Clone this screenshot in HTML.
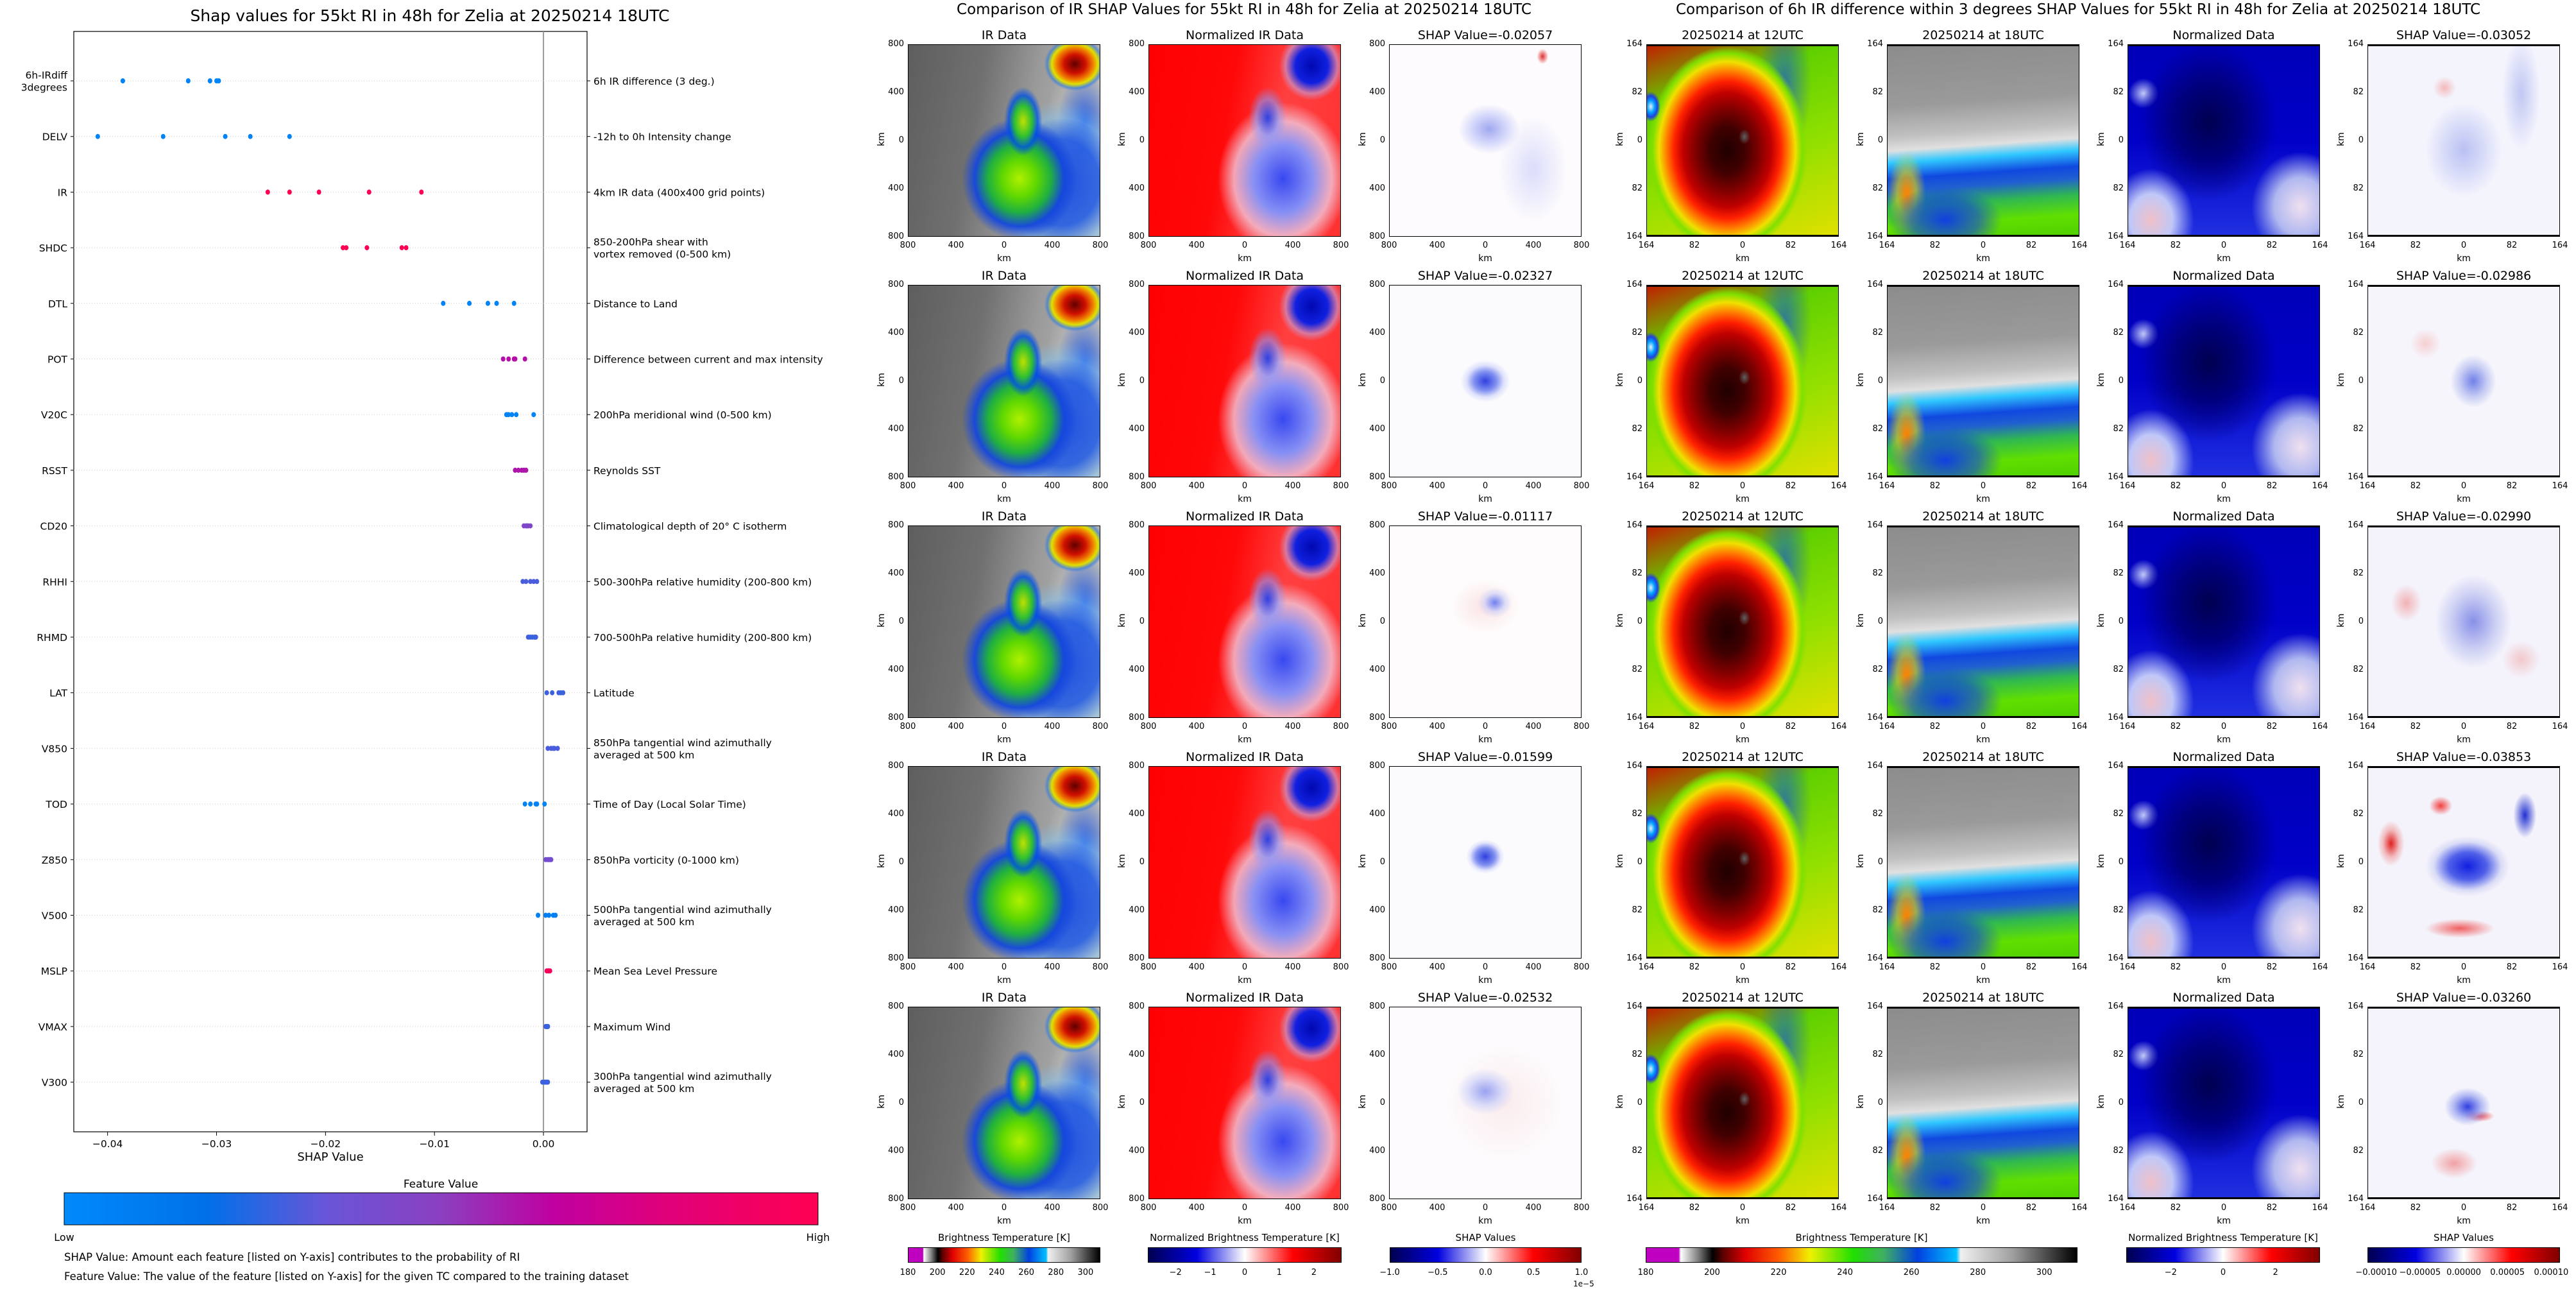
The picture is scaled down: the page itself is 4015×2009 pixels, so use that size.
<!DOCTYPE html>
<html><head><meta charset="utf-8">
<style>
html,body{margin:0;padding:0;background:#fff;}
#root{position:relative;width:4015px;height:2009px;overflow:hidden;background:#fff;font-family:"DejaVu Sans","Liberation Sans",sans-serif;color:#000;}
.abs{position:absolute;}
.ttl{position:absolute;white-space:nowrap;transform:translateX(-50%);}
.panel{position:absolute;width:300px;height:300px;border:1.5px solid #000;box-sizing:border-box;overflow:hidden;}
.ptitle{position:absolute;font-size:19px;white-space:nowrap;transform:translateX(-50%);}
.tk{position:absolute;font-size:13px;white-space:nowrap;}
.kmx{position:absolute;font-size:14px;transform:translateX(-50%);}
.kmy{position:absolute;font-size:14px;transform:rotate(-90deg);transform-origin:center;}
.cb{position:absolute;height:24px;border:1.5px solid #000;box-sizing:border-box;}
.cbt{position:absolute;font-size:15px;white-space:nowrap;transform:translateX(-50%);}
</style></head>
<body>
<div id="root">
<svg id="left" class="abs" style="left:0;top:0" width="1340" height="2009"></svg>
<div class="ttl" style="left:1939px;top:2px;font-size:23px">Comparison of IR SHAP Values for 55kt RI in 48h for Zelia at 20250214 18UTC</div>
<div class="ttl" style="left:3239px;top:2px;font-size:23px">Comparison of 6h IR difference within 3 degrees SHAP Values for 55kt RI in 48h for Zelia at 20250214 18UTC</div>
<div id="panels"></div>
</div>
<script>
// ===== SHAP summary data =====
const features = ["6h-IRdiff\n3degrees","DELV","IR","SHDC","DTL","POT","V20C","RSST","CD20","RHHI","RHMD","LAT","V850","TOD","Z850","V500","MSLP","VMAX","V300"];
const descriptions = ["6h IR difference (3 deg.)","-12h to 0h Intensity change","4km IR data (400x400 grid points)","850-200hPa shear with\nvortex removed (0-500 km)","Distance to Land","Difference between current and max intensity","200hPa meridional wind (0-500 km)","Reynolds SST","Climatological depth of 20° C isotherm","500-300hPa relative humidity (200-800 km)","700-500hPa relative humidity (200-800 km)","Latitude","850hPa tangential wind azimuthally\naveraged at 500 km","Time of Day (Local Solar Time)","850hPa vorticity (0-1000 km)","500hPa tangential wind azimuthally\naveraged at 500 km","Mean Sea Level Pressure","Maximum Wind","300hPa tangential wind azimuthally\naveraged at 500 km"];
const shapValues = [
 [-0.0386,-0.0326,-0.0306,-0.0300,-0.0298],
 [-0.0409,-0.0349,-0.0292,-0.0269,-0.0233],
 [-0.0253,-0.0233,-0.0206,-0.0160,-0.0112],
 [-0.0184,-0.0181,-0.0162,-0.0130,-0.0126],
 [-0.0092,-0.0068,-0.0051,-0.0043,-0.0027],
 [-0.0037,-0.0032,-0.0027,-0.0026,-0.0017],
 [-0.0034,-0.0032,-0.0029,-0.0025,-0.0009],
 [-0.0026,-0.0023,-0.0020,-0.0018,-0.0016],
 [-0.0018,-0.0016,-0.0015,-0.0014,-0.0012],
 [-0.0019,-0.0016,-0.0012,-0.0009,-0.0006],
 [-0.0014,-0.0012,-0.0010,-0.0008,-0.0007],
 [0.0003,0.0008,0.0014,0.0016,0.0018],
 [0.0004,0.0007,0.0009,0.0010,0.0013],
 [-0.0017,-0.0012,-0.0007,-0.0006,0.0001],
 [0.0002,0.0004,0.0005,0.0006,0.0007],
 [-0.0005,0.0002,0.0005,0.0009,0.0011],
 [0.0003,0.0004,0.0005,0.0005,0.0006],
 [0.0002,0.0003,0.0003,0.0004,0.0004],
 [-0.0001,0.0001,0.0002,0.0003,0.0004]];
const featureValues = [0.05,0.05,1.0,1.0,0.05,0.62,0.05,0.6,0.45,0.3,0.28,0.28,0.3,0.05,0.4,0.08,0.95,0.28,0.28];
const xTicks = [-0.04,-0.03,-0.02,-0.01,0.00];
const xTickLabels = ["\u22120.04","\u22120.03","\u22120.02","\u22120.01","0.00"];

const NS="http://www.w3.org/2000/svg";
const svg=document.getElementById('left');
function mk(tag,attrs,parent){const e=document.createElementNS(NS,tag);for(const k in attrs)e.setAttribute(k,attrs[k]);(parent||svg).appendChild(e);return e;}
const AX={l:115,r:915,t:49,b:1764};
const xMin=-0.0431,xMax=0.0040;
function xs(v){return AX.l+(v-xMin)/(xMax-xMin)*(AX.r-AX.l);}
function ys(i){return 126+i*86.7;}
const cmapStops=[[0,[0,138,251]],[0.19,[0,112,232]],[0.35,[106,85,216]],[0.5,[138,64,192]],[0.65,[192,0,160]],[0.8,[224,0,122]],[1,[255,0,82]]];
function cmap(t){for(let i=1;i<cmapStops.length;i++){if(t<=cmapStops[i][0]){const a=cmapStops[i-1],b=cmapStops[i];const f=(t-a[0])/(b[0]-a[0]);return 'rgb('+a[1].map((c,j)=>Math.round(c+(b[1][j]-c)*f)).join(',')+')';}}return 'rgb(255,0,82)';}

let t=mk('text',{x:670,y:33,'font-size':25,'text-anchor':'middle'});t.textContent='Shap values for 55kt RI in 48h for Zelia at 20250214 18UTC';


let box=mk('rect',{x:AX.l,y:AX.t,width:AX.r-AX.l,height:AX.b-AX.t,fill:'none',stroke:'#000','stroke-width':1.2});


let zl=mk('line',{x1:xs(0),x2:xs(0),y1:AX.t,y2:AX.b,stroke:'#999','stroke-width':2});


features.forEach((f,i)=>{
  const y=ys(i);
  const g=mk('line',{x1:AX.l,x2:AX.r,y1:y,y2:y,stroke:'#ccc','stroke-width':1,'stroke-dasharray':'1,3'});
  
  
  mk('line',{x1:AX.l-5,x2:AX.l,y1:y,y2:y,stroke:'#000'});
  mk('line',{x1:AX.r,x2:AX.r+5,y1:y,y2:y,stroke:'#000'});
  const lines=f.split('\n');
  lines.forEach((ln,k)=>{const tt=mk('text',{x:AX.l-10,y:y+6+(k-(lines.length-1)/2)*19,'font-size':15.5,'text-anchor':'end'});tt.textContent=ln;
    
    });
  const d=descriptions[i].split('\n');
  d.forEach((ln,k)=>{const tt=mk('text',{x:AX.r+10,y:y+6+(k-(d.length-1)/2)*19,'font-size':15.5});tt.textContent=ln;
    
    });
  shapValues[i].forEach(v=>{
    const c=mk('ellipse',{cx:xs(v),cy:y,rx:3.5,ry:4,fill:cmap(featureValues[i])});
    
    
  });
});
xTicks.forEach((v,i)=>{
  mk('line',{x1:xs(v),x2:xs(v),y1:AX.b,y2:AX.b+6,stroke:'#000'});
  const tt=mk('text',{x:xs(v),y:AX.b+24,'font-size':15.5,'text-anchor':'middle'});tt.textContent=xTickLabels[i];
  
  
});
t=mk('text',{x:515,y:1809,'font-size':18,'text-anchor':'middle'});t.textContent='SHAP Value';


t=mk('text',{x:687,y:1851,'font-size':17,'text-anchor':'middle'});t.textContent='Feature Value';


const defs=mk('defs',{});const lg=mk('linearGradient',{id:'fvgrad',x1:0,x2:1,y1:0,y2:0},defs);
cmapStops.forEach(s=>mk('stop',{offset:s[0],'stop-color':'rgb('+s[1].join(',')+')'},lg));
let cbr=mk('rect',{x:100,y:1859,width:1175,height:50,fill:'url(#fvgrad)',stroke:'#000','stroke-width':1});


t=mk('text',{x:100,y:1934,'font-size':16,'text-anchor':'middle'});t.textContent='Low';


t=mk('text',{x:1275,y:1934,'font-size':16,'text-anchor':'middle'});t.textContent='High';


t=mk('text',{x:100,y:1965,'font-size':16.5});t.textContent='SHAP Value: Amount each feature [listed on Y-axis] contributes to the probability of RI';


t=mk('text',{x:100,y:1995,'font-size':16.5});t.textContent='Feature Value: The value of the feature [listed on Y-axis] for the given TC compared to the training dataset';



// ===== image panels =====
const colX=[1415,1790,2165,2566,2941,3316,3690];
const rowY=[69,444,819,1194,1569];
const irShap=["-0.02057","-0.02327","-0.01117","-0.01599","-0.02532"];
const diffShap=["-0.03052","-0.02986","-0.02990","-0.03853","-0.03260"];
const BG={
 ir:"radial-gradient(ellipse 16% 14% at 87% 10%, #600000 0%, #d01000 35%, #f08000 60%, #e0e000 75%, rgba(40,120,230,0.6) 90%, transparent 100%),"+
    "radial-gradient(ellipse 10% 18% at 60% 40%, #c0e000 0%, #30c030 45%, rgba(0,80,230,0.8) 75%, transparent 100%),"+
    "radial-gradient(ellipse 30% 32% at 58% 70%, #b0f000 0%, #60d800 30%, #20b040 55%, rgba(20,70,220,0.95) 78%, transparent 100%),"+
    "radial-gradient(ellipse 40% 45% at 80% 72%, #2050e0 0%, rgba(30,90,230,0.85) 50%, rgba(120,200,255,0.4) 75%, transparent 95%),"+
    "radial-gradient(ellipse 20% 35% at 92% 40%, rgba(20,80,230,0.85) 0%, rgba(200,200,200,0.3) 70%, transparent 100%),"+
    "linear-gradient(100deg,#5e5e5e 0%,#707070 35%,#9a9a9a 60%,#c0c0c0 100%)",
 nir:"radial-gradient(ellipse 17% 18% at 85% 11%, #0008b0 0%, #1020e0 50%, rgba(180,180,255,0.5) 80%, transparent 100%),"+
    "radial-gradient(ellipse 10% 16% at 62% 38%, #3040e0 0%, rgba(140,150,250,0.6) 60%, transparent 100%),"+
    "radial-gradient(ellipse 34% 40% at 70% 70%, #3848f0 0%, #8890f4 45%, rgba(240,200,220,0.8) 75%, transparent 100%),"+
    "linear-gradient(100deg,#ff0000 0%,#ff0808 40%,#ff4040 65%,#ff3030 100%)",
 shap:["radial-gradient(ellipse 16% 13% at 52% 44%, #a0a8f0 0%, rgba(200,205,250,0.7) 60%, transparent 100%),radial-gradient(ellipse 3% 4% at 80% 6%, #e03030 0%, transparent 100%),radial-gradient(ellipse 18% 28% at 75% 65%, rgba(215,218,250,0.9) 0%, transparent 100%),#fdfbfd",
       "radial-gradient(ellipse 13% 11% at 50% 50%, #3040e0 0%, #8090f0 45%, rgba(215,218,250,0.8) 75%, transparent 100%),#fbfbfe",
       "radial-gradient(ellipse 9% 8% at 55% 40%, #7080f0 0%, rgba(200,205,250,0.6) 60%, transparent 100%),radial-gradient(ellipse 18% 14% at 50% 42%, rgba(250,220,220,0.8) 0%, transparent 100%),#fefcfc",
       "radial-gradient(ellipse 10% 9% at 50% 47%, #3040e0 0%, #8090f0 50%, rgba(215,218,250,0.7) 80%, transparent 100%),#fbfbfe",
       "radial-gradient(ellipse 15% 12% at 50% 44%, #9aa2f0 0%, rgba(205,210,250,0.7) 60%, transparent 100%),radial-gradient(ellipse 30% 30% at 60% 50%, rgba(248,225,225,0.6) 0%, transparent 100%),#fdfbfd"],
 d12:"radial-gradient(ellipse 3% 4% at 51% 48%, #606060 0%, transparent 100%),"+
    "radial-gradient(ellipse 5% 8% at 2% 32%, #e0f0ff 0%, #00a0ff 40%, #2040e0 70%, transparent 100%),"+
    "radial-gradient(ellipse 42% 55% at 42% 55%, #200000 0%, #400000 22%, #800000 40%, #c00000 55%, #ff2000 66%, #ff8000 76%, #f0e000 85%, #80e000 93%, rgba(60,200,20,0) 100%),"+
    "radial-gradient(ellipse 14% 40% at 72% 20%, rgba(20,80,220,0.7) 0%, transparent 100%),"+
    "linear-gradient(160deg,#c02000 0%,#60d000 25%,#90e000 60%,#e0e000 100%)",
 d18:"radial-gradient(ellipse 30% 18% at 30% 92%, #1040e0 0%, rgba(16,64,224,0.6) 60%, transparent 100%),"+
    "radial-gradient(ellipse 10% 22% at 10% 78%, #ff8000 0%, rgba(240,220,0,0.6) 50%, transparent 100%),"+
    "linear-gradient(176deg,#8c8c8c 0%,#9a9a9a 30%,#c0c0c0 45%,#e0e0e0 52%,#30c8ff 58%,#1048e0 66%,#2060d0 72%,#30b850 80%,#60e000 90%,#50d000 100%)",
 nd:"radial-gradient(ellipse 36% 42% at 42% 40%, #000050 0%, #000080 50%, rgba(0,0,180,0) 100%),"+
    "radial-gradient(ellipse 28% 34% at 12% 92%, #f0c0c8 0%, #c0c8f8 40%, transparent 80%),"+
    "radial-gradient(ellipse 30% 34% at 90% 85%, #f0e0f0 0%, #b0b8f0 45%, transparent 85%),"+
    "radial-gradient(ellipse 8% 8% at 8% 25%, #c0c8f8 0%, transparent 100%),"+
    "linear-gradient(180deg,#0000b8 0%,#0000c8 50%,#2030e0 100%)",
 gs:["radial-gradient(ellipse 20% 25% at 50% 55%, rgba(170,180,240,0.8) 0%, transparent 100%),radial-gradient(ellipse 6% 6% at 40% 22%, rgba(245,170,170,0.8) 0%, transparent 100%),radial-gradient(ellipse 10% 30% at 80% 25%, rgba(180,188,240,0.8) 0%, transparent 100%),#f4f4fd",
     "radial-gradient(ellipse 12% 14% at 55% 50%, #7080e8 0%, rgba(180,188,240,0.7) 60%, transparent 100%),radial-gradient(ellipse 8% 8% at 30% 30%, rgba(245,190,190,0.7) 0%, transparent 100%),#f6f5fc",
     "radial-gradient(ellipse 20% 25% at 55% 50%, #8890e8 0%, rgba(190,195,240,0.7) 60%, transparent 100%),radial-gradient(ellipse 8% 10% at 20% 40%, rgba(240,150,150,0.7) 0%, transparent 100%),radial-gradient(ellipse 10% 10% at 80% 70%, rgba(240,170,170,0.6) 0%, transparent 100%),#f4f3fc",
     "radial-gradient(ellipse 22% 16% at 52% 52%, #1020e0 0%, #5060e8 45%, rgba(200,205,245,0.6) 80%, transparent 100%),radial-gradient(ellipse 7% 12% at 12% 40%, #e02020 0%, rgba(240,150,150,0.6) 60%, transparent 100%),radial-gradient(ellipse 18% 5% at 48% 85%, #f06060 0%, transparent 100%),radial-gradient(ellipse 6% 12% at 82% 25%, #2030d0 0%, transparent 100%),radial-gradient(ellipse 6% 5% at 38% 20%, #f04040 0%, transparent 100%),#f4f2fa",
     "radial-gradient(ellipse 12% 10% at 52% 52%, #3040e0 0%, rgba(150,160,240,0.7) 60%, transparent 100%),radial-gradient(ellipse 8% 3% at 58% 57%, #f04040 0%, transparent 100%),radial-gradient(ellipse 12% 8% at 45% 82%, rgba(240,140,140,0.8) 0%, transparent 100%),#f5f3fb"]
};
const panelsEl=document.getElementById('panels');
function add(cls,style,text,name){const d=document.createElement('div');d.className=cls;d.setAttribute('style',style);if(text!==null)d.textContent=text;
  
  
  panelsEl.appendChild(d);return d;}
const irTicks=["800","400","0","400","800"];
const dTicks=["164","82","0","82","164"];
rowY.forEach((y,r)=>{
  colX.forEach((x,c)=>{
    let title,bg,ticks;
    if(c===0){title='IR Data';bg=BG.ir;ticks=irTicks;}
    else if(c===1){title='Normalized IR Data';bg=BG.nir;ticks=irTicks;}
    else if(c===2){title='SHAP Value='+irShap[r];bg=BG.shap[r];ticks=irTicks;}
    else if(c===3){title='20250214 at 12UTC';bg=BG.d12;ticks=dTicks;}
    else if(c===4){title='20250214 at 18UTC';bg=BG.d18;ticks=dTicks;}
    else if(c===5){title='Normalized Data';bg=BG.nd;ticks=dTicks;}
    else {title='SHAP Value='+diffShap[r];bg=BG.gs[r];ticks=dTicks;}
    const extra=c>=3?'border-top:3px solid #000;border-bottom:3px solid #000;':'';
    add('panel','left:'+x+'px;top:'+y+'px;background:'+bg+';'+extra,null,'image-panel');
    add('ptitle','left:'+(x+150)+'px;top:'+(y-25)+'px',title,'panel-title');
    ticks.forEach((tk,k)=>{
      const p=k*75;
      add('tk','left:'+(x+p)+'px;top:'+(y+306)+'px;transform:translateX(-50%)',tk,'x-tick-label');
      add('tk','left:'+(x-6)+'px;top:'+(y+p-8)+'px;transform:translateX(-100%)',tk,'y-tick-label');
    });
    add('kmx','left:'+(x+150)+'px;top:'+(y+326)+'px','km','x-axis-label');
    add('kmy','left:'+(x-52)+'px;top:'+(y+140)+'px','km','y-axis-label');
  });
});
// ===== colorbars =====
const cbDefs=[
 {x:1415,w:300,title:'Brightness Temperature [K]',min:180,max:310,ticks:[180,200,220,240,260,280,300],grad:'linear-gradient(90deg,#c000c0 0%,#c000c0 7.5%,#ffffff 8%,#808080 12%,#000 15.4%,#600000 18%,#e00000 23%,#ff6000 31%,#f0f000 38%,#20e000 48%,#40b060 55%,#0040e0 63%,#00c0ff 72%,#f0f0f0 73%,#a0a0a0 85%,#000 100%)'},
 {x:1789,w:302,title:'Normalized Brightness Temperature [K]',min:-2.8,max:2.8,ticks:[-2,-1,0,1,2],grad:'linear-gradient(90deg,#000050,#0000e0 25%,#ffffff 50%,#ff0000 75%,#800000)'},
 {x:2166,w:299,title:'SHAP Values',min:-1,max:1,ticks:[-1.0,-0.5,0.0,0.5,1.0],grad:'linear-gradient(90deg,#000050,#0000e0 25%,#ffffff 50%,#ff0000 75%,#800000)'},
 {x:2565,w:673,title:'Brightness Temperature [K]',min:180,max:310,ticks:[180,200,220,240,260,280,300],grad:'linear-gradient(90deg,#c000c0 0%,#c000c0 7.5%,#ffffff 8%,#808080 12%,#000 15.4%,#600000 18%,#e00000 23%,#ff6000 31%,#f0f000 38%,#20e000 48%,#40b060 55%,#0040e0 63%,#00c0ff 72%,#f0f0f0 73%,#a0a0a0 85%,#000 100%)'},
 {x:3314,w:302,title:'Normalized Brightness Temperature [K]',min:-3.7,max:3.7,ticks:[-2,0,2],grad:'linear-gradient(90deg,#000050,#0000e0 25%,#ffffff 50%,#ff0000 75%,#800000)'},
 {x:3690,w:300,title:'SHAP Values',min:-0.00011,max:0.00011,ticks:[-0.0001,-0.00005,0,0.00005,0.0001],grad:'linear-gradient(90deg,#000050,#0000e0 25%,#ffffff 50%,#ff0000 75%,#800000)'}
];
function fmt(v,i){if(i===2)return v.toFixed(1).replace('-','\u2212');if(i===5)return v.toFixed(5).replace('-','\u2212');return String(v).replace('-','\u2212');}
cbDefs.forEach((cb,i)=>{
  add('cb','left:'+cb.x+'px;top:1944px;width:'+cb.w+'px;background:'+cb.grad,null,'colorbar');
  add('cbt','left:'+(cb.x+cb.w/2)+'px;top:1920px',cb.title,'colorbar-title');
  cb.ticks.forEach(v=>{
    const px=cb.x+(v-cb.min)/(cb.max-cb.min)*cb.w;
    add('tk','left:'+px+'px;top:1976px;transform:translateX(-50%)',fmt(v,i),'colorbar-tick');
  });
});
add('tk','left:2452px;top:1994px;font-size:12px','1e\u22125','colorbar-offset-label');
</script>
</body></html>
